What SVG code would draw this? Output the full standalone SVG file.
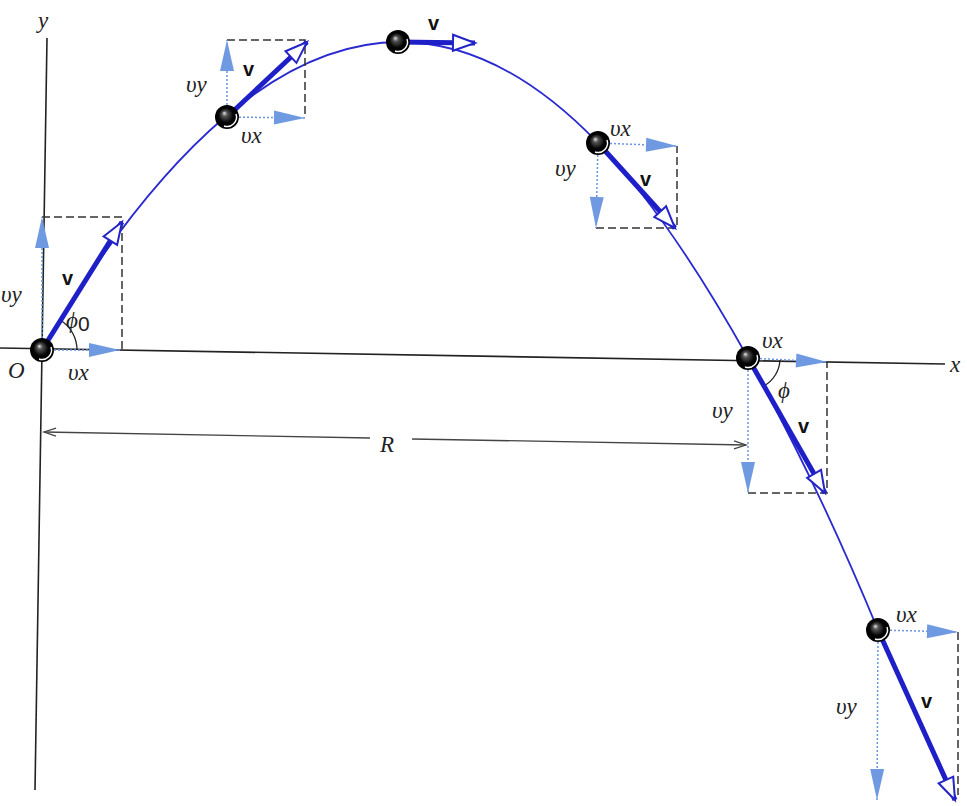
<svg xmlns="http://www.w3.org/2000/svg" width="967" height="806" viewBox="0 0 967 806">
<style>
.axis{stroke:#222;stroke-width:1.6;fill:none}
.traj{stroke:#2a2ad0;stroke-width:1.8;fill:none}
.vel{stroke:#1f1fc8;stroke-width:5;fill:none;marker-end:url(#vh)}
.comp{stroke:#6b94dc;stroke-width:1.5;stroke-dasharray:2 2;fill:none;marker-end:url(#ch)}
.dash{stroke:#333;stroke-width:1.5;stroke-dasharray:8 4;fill:none}
.lab{font-family:"Liberation Serif",serif;font-style:italic;font-size:23px;fill:#222}
.vb{font-family:"Liberation Sans",sans-serif;font-weight:bold;font-size:20px;fill:#111}
.dim{stroke:#444;stroke-width:1.3;fill:none}
.arc{stroke:#222;stroke-width:1.3;fill:none}
</style>
<defs>
<marker id="vh" markerUnits="userSpaceOnUse" markerWidth="30" markerHeight="20" refX="0" refY="0" orient="auto" style="overflow:visible">
<path d="M-22,-8 L0,0 L-22,8 Z" fill="#fff" stroke="#2424c8" stroke-width="2" stroke-linejoin="miter"/>
</marker>
<marker id="ch" markerUnits="userSpaceOnUse" markerWidth="34" markerHeight="16" refX="0" refY="0" orient="auto" style="overflow:visible">
<path d="M-31,-7 L0,0 L-31,7 Z" fill="#6f9ae2"/>
</marker>
<marker id="da" markerUnits="userSpaceOnUse" markerWidth="14" markerHeight="10" refX="0" refY="0" orient="auto" style="overflow:visible">
<path d="M-12,-4 L0,0 L-12,4" fill="none" stroke="#444" stroke-width="1.3"/>
</marker>
<radialGradient id="ball" cx="0.5" cy="0.5" r="0.5" fx="0.38" fy="0.33">
<stop offset="0" stop-color="#e8e8e8"/>
<stop offset="0.22" stop-color="#555"/>
<stop offset="0.6" stop-color="#050505"/>
<stop offset="1" stop-color="#000"/>
</radialGradient>
<g id="sphere">
<circle r="12" fill="url(#ball)"/>
<path d="M9,-3 A9.5,9.5 0 0 1 -3,9" stroke="#fff" stroke-width="1.4" fill="none"/>
</g>
</defs>
<rect width="967" height="806" fill="#fff"/>

<g id="axes">
<line class="axis" x1="47" y1="38" x2="35" y2="790"/>
<line class="axis" x1="0" y1="348" x2="945" y2="364"/>
<text class="lab" x="38" y="28">y</text>
<text class="lab" x="950" y="372">x</text>
<text class="lab" x="8" y="378">O</text>
</g>

<g id="range">
<line class="dim" x1="370" y1="438" x2="44" y2="432" marker-end="url(#da)"/>
<line class="dim" x1="412" y1="439" x2="746" y2="445" marker-end="url(#da)"/>
<text class="lab" x="380" y="452">R</text>
</g>

<g id="connectors">
<path class="traj" d="M42,350 C103,246.3 164,168.9 225,117 C283.3,67.4 341.7,42 400,42 C466,42 532,74.4 598,143 C648,195 698,268.5 748,358 C791.3,435.5 834.7,525.2 878,630 C902.7,685.5 927.3,740.2 952,797"/>
</g>

<g id="p0">
<path class="dash" d="M42,217 H122 V350"/>
<line class="comp" x1="42" y1="350" x2="42" y2="217"/>
<line class="comp" x1="42" y1="350" x2="120" y2="350"/>
<path class="arc" d="M77,350 A35,35 0 0 0 60.5,320.3"/>
<line class="vel" x1="42" y1="350" x2="122" y2="222"/>
<use href="#sphere" x="42" y="350"/>
<text class="vb" x="62" y="285">v</text>
<text class="lab" x="1" y="302">υy</text>
<text class="lab" x="66" y="328">ϕ<tspan font-style="normal" font-family="Liberation Sans,sans-serif" font-size="21" dy="3">0</tspan></text>
<text class="lab" x="68" y="380">υx</text>
</g>

<g id="p1">
<path class="dash" d="M227,40 H305 V118"/>
<line class="comp" x1="227" y1="117" x2="227" y2="40"/>
<line class="comp" x1="227" y1="117" x2="305" y2="118"/>
<line class="vel" x1="227" y1="117" x2="307" y2="42"/>
<use href="#sphere" x="227" y="117"/>
<text class="vb" x="243" y="76">v</text>
<text class="lab" x="186" y="92">υy</text>
<text class="lab" x="241" y="143">υx</text>
</g>

<g id="p2">
<line class="vel" x1="398" y1="42" x2="475" y2="43"/>
<use href="#sphere" x="398" y="42"/>
<text class="vb" x="428" y="30">v</text>
</g>

<g id="p3">
<path class="dash" d="M596,228 H677 V146"/>
<line class="comp" x1="598" y1="143" x2="596" y2="228"/>
<line class="comp" x1="598" y1="143" x2="677" y2="146"/>
<line class="vel" x1="598" y1="143" x2="675" y2="228"/>
<use href="#sphere" x="598" y="143"/>
<text class="vb" x="640" y="186">v</text>
<text class="lab" x="555" y="176">υy</text>
<text class="lab" x="610" y="136">υx</text>
</g>

<g id="p4">
<path class="dash" d="M748,493 H827 V362"/>
<line class="comp" x1="748" y1="358" x2="748" y2="493"/>
<line class="comp" x1="748" y1="358" x2="827" y2="362"/>
<path class="arc" d="M780,360 A32,32 0 0 1 764,386"/>
<line class="vel" x1="748" y1="358" x2="825" y2="493"/>
<use href="#sphere" x="748" y="358"/>
<text class="vb" x="798" y="433">v</text>
<text class="lab" x="712" y="418">υy</text>
<text class="lab" x="762" y="348">υx</text>
<text class="lab" x="778" y="398">ϕ</text>
</g>

<g id="p5">
<path class="dash" d="M958,632 V795"/>
<line class="comp" x1="878" y1="630" x2="877" y2="800"/>
<line class="comp" x1="878" y1="630" x2="958" y2="632"/>
<line class="vel" x1="878" y1="630" x2="955" y2="800"/>
<use href="#sphere" x="878" y="630"/>
<text class="vb" x="921" y="708">v</text>
<text class="lab" x="836" y="714">υy</text>
<text class="lab" x="896" y="622">υx</text>
</g>
</svg>
